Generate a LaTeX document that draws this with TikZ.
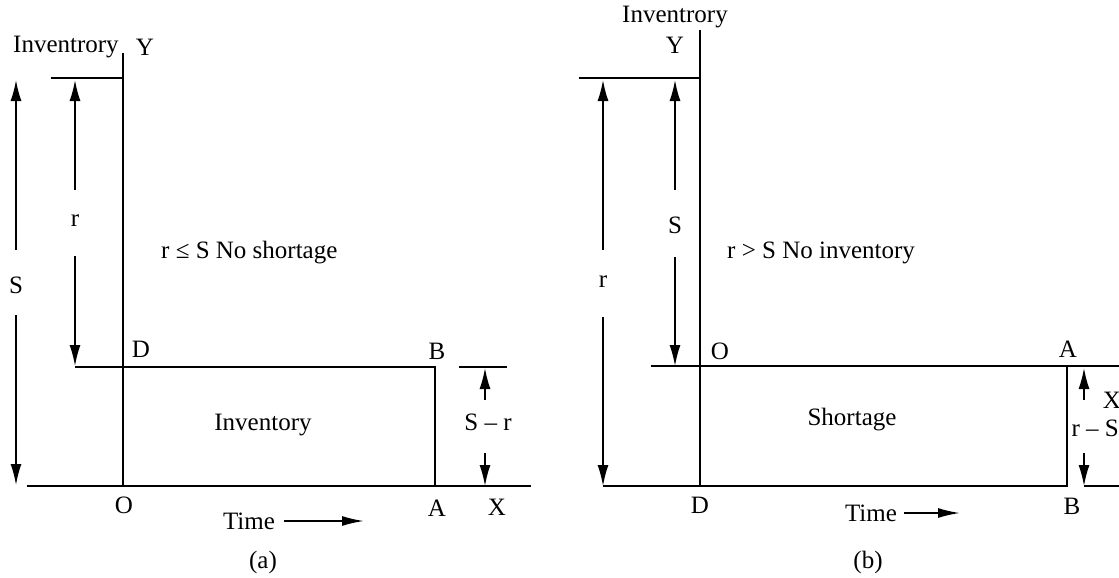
\documentclass[tikz,border=0pt]{standalone}
\usepackage{fontspec}
\setmainfont{Liberation Serif}
\usetikzlibrary{arrows.meta}
\begin{document}
\begin{tikzpicture}[x=1pt,y=-1pt,
  lbl/.style={font=\fontsize{25}{29}\selectfont, inner sep=0pt},
  axis/.style={line width=2pt},
  dim/.style={line width=1.6pt, -{Latex[length=21pt,width=11pt]}},
  timearrow/.style={line width=1.8pt, -{Latex[length=22pt,width=10pt]}}]
\useasboundingbox (0,0) rectangle (1119,578);
% ---------------- panel (a) ----------------
\coordinate (aYt) at (123,53);
\coordinate (aO) at (123,486);
\coordinate (aXl) at (27,486);
\coordinate (aXr) at (531,486);
\coordinate (aTl) at (51,78);
\coordinate (aTr) at (123,78);
\coordinate (aDl) at (75,367);
\coordinate (aBc) at (435,367);
\coordinate (aAc) at (435,486);
\coordinate (aSrl) at (459,367);
\coordinate (aSrr) at (507,367);
\draw[axis] (aYt) -- (aO);
\draw[axis] (aXl) -- (aXr);
\draw[axis] (aTl) -- (aTr);
\draw[axis] (aDl) -- (aBc) -- (aAc);
\draw[axis] (aSrl) -- (aSrr);
% S dimension
\coordinate (aS1) at (16,250); \coordinate (aS1t) at (16,80);
\coordinate (aS2) at (16,315); \coordinate (aS2t) at (16,485);
\node[lbl] (aS) at (16,285) {S};
\draw[dim] (aS1) -- (aS1t);
\draw[dim] (aS2) -- (aS2t);
% r dimension
\coordinate (ar1) at (75,190); \coordinate (ar1t) at (75,80);
\coordinate (ar2) at (75,256); \coordinate (ar2t) at (75,366);
\node[lbl] (ar) at (75,221) {r};
\draw[dim] (ar1) -- (ar1t);
\draw[dim] (ar2) -- (ar2t);
% S-r dimension
\coordinate (asr1) at (485,400); \coordinate (asr1t) at (485,368);
\coordinate (asr2) at (485,453); \coordinate (asr2t) at (485,486);
\node[lbl] (asr) at (488,422) {S – r};
\draw[dim] (asr1) -- (asr1t);
\draw[dim] (asr2) -- (asr2t);
% labels
\node[lbl, anchor=west] (aInv) at (13,47) {Inventrory};
\node[lbl] (aY) at (145,47) {Y};
\node[lbl] (aD) at (141,349) {D};
\node[lbl] (aB) at (437,351) {B};
\node[lbl] (aOl) at (124,505) {O};
\node[lbl] (aA) at (437,508) {A};
\node[lbl] (aX) at (497,507) {X};
\node[lbl] (aInvbox) at (263,425) {Inventory};
\node[lbl, anchor=west] (acond) at (161,253) {r ≤ S No shortage};
\node[lbl] (aTime) at (249,521) {Time};
\coordinate (aT1) at (284,521); \coordinate (aT2) at (364,521);
\draw[timearrow] (aT1) -- (aT2);
\node[lbl] (acap) at (263,562) {(a)};
% ---------------- panel (b) ----------------
\coordinate (bYt) at (700,30);
\coordinate (bD) at (700,486);
\coordinate (bTl) at (579,78);
\coordinate (bTr) at (700,78);
\coordinate (bOl) at (651,366);
\coordinate (bOr) at (1119,366);
\coordinate (bAc) at (1067,366);
\coordinate (bBc) at (1067,486);
\coordinate (bBl) at (603,486);
\coordinate (bXl) at (1084,486);
\coordinate (bXr) at (1119,486);
\draw[axis] (bYt) -- (bD);
\draw[axis] (bTl) -- (bTr);
\draw[axis] (bOl) -- (bOr);
\draw[axis] (bAc) -- (bBc) -- (bBl);
\draw[axis] (bXl) -- (bXr);
% r dimension
\coordinate (br1) at (603,250); \coordinate (br1t) at (603,80);
\coordinate (br2) at (603,317); \coordinate (br2t) at (603,486);
\node[lbl] (br) at (603,282) {r};
\draw[dim] (br1) -- (br1t);
\draw[dim] (br2) -- (br2t);
% S dimension
\coordinate (bS1) at (675,190); \coordinate (bS1t) at (675,80);
\coordinate (bS2) at (675,257); \coordinate (bS2t) at (675,366);
\node[lbl] (bS) at (675,225) {S};
\draw[dim] (bS1) -- (bS1t);
\draw[dim] (bS2) -- (bS2t);
% r-S dimension
\coordinate (brs1) at (1084,400); \coordinate (brs1t) at (1084,368);
\coordinate (brs2) at (1084,453); \coordinate (brs2t) at (1084,486);
\draw[dim] (brs1) -- (brs1t);
\draw[dim] (brs2) -- (brs2t);
\node[lbl] (bX) at (1112,400) {X};
\node[lbl, anchor=east] (brs) at (1119,428) {r – S};
% labels
\node[lbl] (bInv) at (675,17) {Inventrory};
\node[lbl] (bY) at (675,45) {Y};
\node[lbl] (bO) at (720,351) {O};
\node[lbl] (bA) at (1068,349) {A};
\node[lbl] (bDl) at (700,505) {D};
\node[lbl] (bB) at (1072,506) {B};
\node[lbl] (bShort) at (852,420) {Shortage};
\node[lbl, anchor=west] (bcond) at (727,253) {r > S No inventory};
\node[lbl] (bTime) at (871,513) {Time};
\coordinate (bT1) at (904,513); \coordinate (bT2) at (960,513);
\draw[timearrow] (bT1) -- (bT2);
\node[lbl] (bcap) at (868,562) {(b)};
\end{tikzpicture}
\end{document}
